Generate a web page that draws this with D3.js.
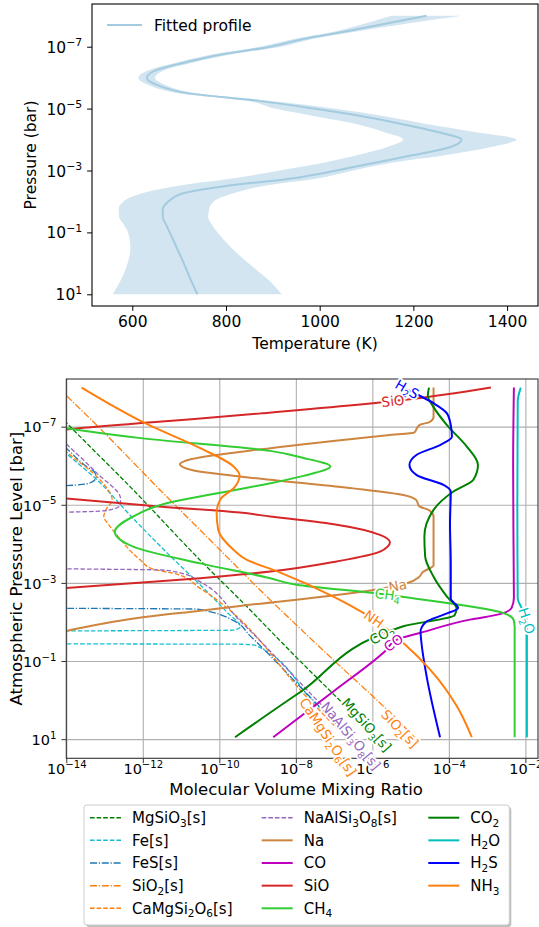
<!DOCTYPE html>
<html>
<head>
<meta charset="utf-8">
<script src="https://cdn.jsdelivr.net/npm/d3@7"></script>
<style>
    body { margin: 0; background: #fff; }
    svg { display: block; font-family: "DejaVu Sans", sans-serif; }
</style>
</head>
<body>
<svg id="chart" width="539" height="927"></svg>
<script>
// ---- top panel: fitted temperature profile (log10 pressure in bar, T in K)
const tpLogP = [-8, -7.75, -7.5, -7.25, -7, -6.75, -6.5, -6.25, -6, -5.75, -5.5, -5.25, -5, -4.75, -4.5, -4.25, -4,
    -3.75, -3.5, -3.25, -3, -2.75, -2.5, -2.25, -2, -1.75, -1.5, -1.25, -1, -0.5, 0, 0.5, 1];
const tpMean = [1228, 1143, 1058, 965, 895, 790, 715, 653, 631, 655, 717, 870, 988, 1090, 1175, 1250, 1303,
    1278, 1200, 1118, 1036, 944, 800, 705, 677, 665, 665, 672, 680, 695, 710, 724, 739];
const tpLow = [1154, 1097, 1035, 945, 872, 770, 697, 636, 613, 637, 698, 845, 905, 990, 1078, 1135, 1178,
    1143, 1082, 1008, 915, 816, 695, 618, 581, 571, 572, 582, 591, 596, 590, 577, 558];
const tpHigh = [1303, 1188, 1082, 985, 918, 810, 733, 670, 649, 673, 736, 895, 1030, 1138, 1228, 1327, 1420,
    1363, 1271, 1154, 1072, 998, 880, 812, 774, 764, 762, 770, 782, 812, 848, 888, 919];
const tempTicks = [600, 800, 1000, 1200, 1400];
const presTicks = [-7, -5, -3, -1, 1];

// ---- bottom panel: [log10 mixing ratio, log10 pressure] along each profile
const mgsio3 = [[-14.9, -8], [-14, -7.1], [-12.25, -5.38], [-10.5, -3.58], [-9.46, -2.57], [-7.89, -1.0], [-6.84, 0.02], [-5.9, 0.95]];
const feS = [[-15.6, -8], [-14, -6.32], [-13.2, -5.64], [-12.3, -4.7], [-11.4, -3.8], [-10.5, -2.95], [-9.8, -2.25], [-9.45, -1.87],
    [-9.65, -1.79], [-14, -1.77], [-16, -1.76], [-40, -1.6], [-16, -1.45], [-14, -1.44], [-9.4, -1.43], [-9.05, -1.4], [-7.58, 0], [-6.6, 0.95]];
const fesS = [[-15.55, -8], [-14, -6.45], [-13.5, -6.0], [-13.25, -5.82], [-13.22, -5.7], [-13.4, -5.55], [-14, -5.49], [-16, -5.45],
    [-40, -4], [-16, -2.36], [-14, -2.35], [-10.6, -2.33], [-10.2, -2.25], [-9.6, -2.02], [-9.2, -1.65], [-7.55, 0], [-6.6, 0.95]];
const sio2S = [[-14.2, -8], [-14, -7.8], [-13.3, -7.13], [-11.55, -5.38], [-10.07, -3.93], [-8.76, -2.65], [-7.02, -1.03], [-5.71, 0.16], [-4.9, 0.95]];
const camgsi2o6 = [[-15.6, -8], [-14, -6.36], [-13.12, -5.64], [-12.8, -5.12], [-12.95, -4.9], [-13.02, -4.7], [-12.9, -4.5], [-12.68, -4.23],
    [-12.07, -3.59], [-11.75, -3.36], [-11.1, -3.22], [-10.5, -2.86], [-7.64, 0], [-6.7, 0.95]];
const naalsi3o8 = [[-15.45, -8], [-14, -6.56], [-13.2, -5.81], [-12.58, -5.15], [-12.6, -4.98], [-12.9, -4.86], [-14, -4.81], [-16, -4.78],
    [-40, -4.1], [-16, -3.38], [-14, -3.36], [-11.5, -3.33], [-10.95, -3.24], [-10.6, -3.08], [-9.46, -2.03], [-7.45, 0], [-6.5, 0.95]];
const na = [[-4.4, -8], [-4.4, -7.25], [-4.5, -7.12], [-4.75, -7.05], [-4.84, -6.95], [-4.9, -6.85], [-5.6, -6.78], [-8.67, -6.45],
    [-10.72, -6.17], [-11.03, -6.04], [-10.72, -5.89], [-8.67, -5.64], [-6.5, -5.42], [-5.19, -5.25], [-4.85, -5.12], [-4.78, -4.97],
    [-4.5, -4.85], [-4.4, -4.7], [-4.4, -3.45], [-4.68, -3.28], [-4.78, -3.15], [-5.1, -2.99], [-5.97, -2.82], [-9.46, -2.41],
    [-10.5, -2.29], [-12, -2.12], [-14, -1.77], [-16, -1.3]];
const co = [[-2.3, -8], [-2.32, -6], [-2.31, -4], [-2.3, -2.62], [-2.36, -2.36], [-2.66, -2.2], [-3.45, -2.06], [-4.75, -1.72],
    [-5.36, -1.55], [-5.67, -1.25], [-7.02, -0.22], [-8.59, 0.95]];
const sio = [[-2.9, -8], [-5.2, -7.68], [-8.9, -7.34], [-11.5, -7.13], [-14, -6.93], [-16, -6.7], [-40, -6], [-16, -5.35], [-14, -5.16],
    [-11.5, -4.95], [-9.46, -4.8], [-8.67, -4.7], [-6.93, -4.49], [-5.8, -4.23], [-5.54, -4.04], [-5.8, -3.8], [-6.93, -3.55],
    [-8.67, -3.29], [-10.5, -3.12], [-12.2, -3.0], [-14, -2.87], [-16, -2.72]];
const ch4 = [[-16, -7.3], [-14, -6.96], [-12, -6.7], [-8.67, -6.38], [-7.8, -6.2], [-7.1, -5.98], [-7.8, -5.74], [-8.67, -5.55],
    [-10.2, -5.27], [-11.38, -5.04], [-12.25, -4.7], [-12.73, -4.31], [-12.25, -3.93], [-10.5, -3.5], [-8.67, -3.12], [-7.98, -2.95],
    [-5.97, -2.74], [-5.28, -2.65], [-2.58, -2.23], [-2.31, -2.06], [-2.28, -1.88], [-2.28, 0.95]];
const co2 = [[-4.52, -8], [-4.55, -7.8], [-4.4, -7.5], [-4.05, -7.04], [-3.53, -6.49], [-3.24, -6.02], [-3.36, -5.64], [-3.88, -5.34],
    [-4.4, -4.87], [-4.64, -4.19], [-4.62, -3.68], [-4.4, -3.16], [-4.05, -2.65], [-3.8, -2.35], [-3.85, -2.17], [-5.19, -1.89],
    [-7.89, -0.2], [-9.59, 0.95]];
const h2o = [[-2.12, -8], [-2.2, -7.65], [-2.21, -5], [-2.2, -2.6], [-2.12, -2.4], [-1.98, -2.15], [-1.96, -1.8], [-1.96, 0.95]];
const h2s = [[-5.2, -8], [-4.8, -7.81], [-4.4, -7.6], [-4.05, -7.34], [-3.95, -7.04], [-3.92, -6.74], [-4.23, -6.53], [-4.84, -6.28],
    [-5.03, -6.02], [-4.84, -5.76], [-4.14, -5.51], [-3.95, -5.34], [-3.97, -4.5], [-3.95, -3.5], [-3.95, -2.6], [-3.76, -2.36],
    [-4.1, -2.2], [-4.6, -2.0], [-4.74, -1.75], [-4.72, -1.5], [-4.58, -0.6], [-4.23, 0.95]];
const nh3 = [[-13.6, -8], [-11.9, -7.07], [-10.5, -6.45], [-9.65, -6.0], [-9.47, -5.75], [-9.6, -5.45], [-9.98, -5.13], [-10.07, -4.79],
    [-10.03, -4.36], [-9.63, -3.85], [-9.28, -3.59], [-8.5, -3.3], [-7.02, -2.65], [-6.15, -2.18], [-5.6, -1.8], [-5.19, -1.46],
    [-4.49, -0.78], [-3.79, 0.16], [-3.4, 0.95]];

const speciesNames = ['MgSiO3[s]', 'Fe[s]', 'FeS[s]', 'SiO2[s]', 'CaMgSi2O6[s]', 'NaAlSi3O8[s]',
    'Na', 'CO', 'SiO', 'CH4', 'CO2', 'H2O', 'H2S', 'NH3'];
const speciesData = [mgsio3, feS, fesS, sio2S, camgsi2o6, naalsi3o8, na, co, sio, ch4, co2, h2o, h2s, nh3];

// inline label anchors [name, log10 mixing ratio, log10 pressure]
const lineLabels = [
    ['H2S', -5.09, -7.96], ['SiO', -5.46, -7.66], ['Na', -5.34, -2.93], ['CH4', -5.6, -2.7],
    ['NH3', -5.9, -2.03], ['CO2', -5.75, -1.67], ['CO', -5.45, -1.47], ['H2O', -1.96, -2.03],
    ['MgSiO3[s]', -6.15, 0.63], ['SiO2[s]', -5.28, 0.73], ['NaAlSi3O8[s]', -6.56, 0.91], ['CaMgSi2O6[s]', -7.16, 0.94]
];
const mixTicks = [-14, -12, -10, -8, -6, -4, -2];
const levelTicks = [-7, -5, -3, -1, 1];

const DASHED = '4.6,2';
const DASHDOT = '7,1.8,1.2,1.8';
const styles = {
    'MgSiO3[s]': { color: '#008000', dash: DASHED, width: 1.3 },
    'Fe[s]': { color: '#17becf', dash: DASHED, width: 1.3 },
    'FeS[s]': { color: '#1f77b4', dash: DASHDOT, width: 1.3 },
    'SiO2[s]': { color: '#ff7f0e', dash: DASHDOT, width: 1.3 },
    'CaMgSi2O6[s]': { color: '#ff7f0e', dash: DASHED, width: 1.3 },
    'NaAlSi3O8[s]': { color: '#9467bd', dash: DASHED, width: 1.3 },
    'Na': { color: '#cd853f', dash: null, width: 2 },
    'CO': { color: '#bf00bf', dash: null, width: 2 },
    'SiO': { color: '#d62728', dash: null, width: 2 },
    'CH4': { color: '#32cd32', dash: null, width: 2 },
    'CO2': { color: '#008000', dash: null, width: 2 },
    'H2O': { color: '#00bfbf', dash: null, width: 2 },
    'H2S': { color: '#0000ff', dash: null, width: 2 },
    'NH3': { color: '#ff7f0e', dash: null, width: 2 }
};
const labelAngle = {
    'H2S': 30, 'SiO': -6, 'Na': -12, 'CH4': 8, 'NH3': 35, 'CO2': -28, 'CO': -35, 'H2O': 72,
    'MgSiO3[s]': 48, 'SiO2[s]': 46, 'NaAlSi3O8[s]': 50, 'CaMgSi2O6[s]': 56
};

const svg = d3.select('#chart');

function powerLabel(text, exp, size) {
    text.text(null);
    text.append('tspan').text('10');
    text.append('tspan')
        .attr('font-size', size * 0.7)
        .attr('dy', -size * 0.42)
        .text(exp < 0 ? '\u2212' + Math.abs(exp) : String(exp));
}

// digits become subscripts: H2O -> H₂O
function chemLabel(text, name, size) {
    text.text(null);
    let low = false;
    name.match(/\d+|\D+/g).forEach(part => {
        const span = text.append('tspan').text(part);
        if (/^\d+$/.test(part)) {
            span.attr('font-size', size * 0.7).attr('dy', low ? 0 : size * 0.24);
            low = true;
        } else if (low) {
            span.attr('dy', -size * 0.24);
            low = false;
        }
    });
}

class ProfileVis {
    constructor(parent) {
        this.parent = parent;
        this.initVis();
    }

    initVis() {
        const vis = this;
        vis.box = { left: 92, right: 538, top: 4, bottom: 306 };
        vis.fs = 15.5;

        vis.x = d3.scaleLinear().domain([514, 1466]).range([vis.box.left, vis.box.right]);
        vis.y = d3.scaleLog().domain([10 ** -8.38, 10 ** 1.378]).range([vis.box.top, vis.box.bottom]);

        vis.g = vis.parent.append('g');
        vis.updateVis();
    }

    updateVis() {
        const vis = this;
        const rows = tpLogP.map((p, i) => ({ p: p, mean: tpMean[i], lo: tpLow[i], hi: tpHigh[i] }));

        vis.g.append('path')
            .datum(rows)
            .attr('fill', '#d2e5f0')
            .attr('d', d3.area()
                .y(d => vis.y(10 ** d.p))
                .x0(d => vis.x(d.lo))
                .x1(d => vis.x(d.hi))
                .curve(d3.curveMonotoneY));

        vis.g.append('path')
            .datum(rows)
            .attr('fill', 'none')
            .attr('stroke', '#a3cbe0')
            .attr('stroke-width', 2)
            .attr('d', d3.line()
                .y(d => vis.y(10 ** d.p))
                .x(d => vis.x(d.mean))
                .curve(d3.curveMonotoneY));

        const xAxis = vis.g.append('g')
            .attr('transform', `translate(0, ${vis.box.bottom})`)
            .call(d3.axisBottom(vis.x).tickValues(tempTicks).tickFormat(d3.format('d')).tickSize(4.9).tickPadding(4.9));
        xAxis.select('.domain').remove();
        xAxis.selectAll('text').attr('font-size', vis.fs).attr('font-family', 'DejaVu Sans').attr('fill', '#000');

        const yAxis = vis.g.append('g')
            .attr('transform', `translate(${vis.box.left}, 0)`)
            .call(d3.axisLeft(vis.y).tickValues(presTicks.map(e => 10 ** e)).tickSize(4.9).tickPadding(4.9));
        yAxis.select('.domain').remove();
        yAxis.selectAll('text')
            .attr('font-size', vis.fs).attr('font-family', 'DejaVu Sans').attr('fill', '#000')
            .attr('dy', '0.36em')
            .each(function(d) { powerLabel(d3.select(this), Math.round(Math.log10(d)), vis.fs); });

        vis.g.append('rect')
            .attr('x', vis.box.left).attr('y', vis.box.top)
            .attr('width', vis.box.right - vis.box.left).attr('height', vis.box.bottom - vis.box.top)
            .attr('fill', 'none').attr('stroke', '#000').attr('stroke-width', 1.1);

        vis.g.append('text')
            .attr('x', (vis.box.left + vis.box.right) / 2).attr('y', 349)
            .attr('text-anchor', 'middle').attr('font-size', vis.fs)
            .text('Temperature (K)');

        vis.g.append('text')
            .attr('transform', `translate(36, ${(vis.box.top + vis.box.bottom) / 2}) rotate(-90)`)
            .attr('text-anchor', 'middle').attr('font-size', vis.fs)
            .text('Pressure (bar)');

        // legend
        vis.g.append('line')
            .attr('x1', 107).attr('x2', 142).attr('y1', 25).attr('y2', 25)
            .attr('stroke', '#a3cbe0').attr('stroke-width', 2);
        vis.g.append('text')
            .attr('x', 154).attr('y', 30.5).attr('font-size', vis.fs)
            .text('Fitted profile');
    }
}

class AbundanceVis {
    constructor(parent) {
        this.parent = parent;
        this.initVis();
    }

    initVis() {
        const vis = this;
        vis.box = { left: 66.3, right: 538, top: 379, bottom: 758.3 };
        vis.fs = 14.5;

        vis.x = d3.scaleLog().domain([1e-14, 10 ** -1.67]).range([vis.box.left, vis.box.right]);
        vis.y = d3.scaleLog().domain([10 ** -8.22, 10 ** 1.49]).range([vis.box.top, vis.box.bottom]);

        vis.g = vis.parent.append('g');

        vis.parent.append('defs').append('clipPath').attr('id', 'plot-clip')
            .append('rect')
            .attr('x', vis.box.left).attr('y', vis.box.top)
            .attr('width', vis.box.right - vis.box.left).attr('height', vis.box.bottom - vis.box.top);

        vis.updateVis();
    }

    updateVis() {
        const vis = this;
        const w = vis.box.right - vis.box.left;
        const h = vis.box.bottom - vis.box.top;

        // grid + ticks
        const xAxis = vis.g.append('g')
            .attr('transform', `translate(0, ${vis.box.bottom})`)
            .call(d3.axisBottom(vis.x).tickValues(mixTicks.map(e => 10 ** e)).tickSize(4.9).tickPadding(4.9));
        xAxis.select('.domain').remove();
        xAxis.selectAll('.tick line').attr('stroke', '#333');
        xAxis.selectAll('.tick').append('line')
            .attr('y1', 0).attr('y2', -h)
            .attr('stroke', '#b0b0b0').attr('stroke-width', 1.1);
        xAxis.selectAll('text')
            .attr('font-size', vis.fs).attr('font-family', 'DejaVu Sans').attr('fill', '#000')
            .attr('y', 16)
            .attr('dy', null)
            .each(function(d) { powerLabel(d3.select(this), Math.round(Math.log10(d)), vis.fs); });

        const yAxis = vis.g.append('g')
            .attr('transform', `translate(${vis.box.left}, 0)`)
            .call(d3.axisLeft(vis.y).tickValues(levelTicks.map(e => 10 ** e)).tickSize(4.9).tickPadding(4.9));
        yAxis.select('.domain').remove();
        yAxis.selectAll('.tick line').attr('stroke', '#333');
        yAxis.selectAll('.tick').append('line')
            .attr('x1', 0).attr('x2', w)
            .attr('stroke', '#b0b0b0').attr('stroke-width', 1.1);
        yAxis.selectAll('text')
            .attr('font-size', vis.fs).attr('font-family', 'DejaVu Sans').attr('fill', '#000')
            .attr('dy', '0.36em')
            .each(function(d) { powerLabel(d3.select(this), Math.round(Math.log10(d)), vis.fs); });

        // profiles
        const line = d3.line()
            .x(d => vis.x(10 ** d[0]))
            .y(d => vis.y(10 ** d[1]))
            .curve(d3.curveMonotoneY);

        vis.g.append('g')
            .attr('clip-path', 'url(#plot-clip)')
            .selectAll('.profile')
            .data(speciesNames)
            .enter()
            .append('path')
            .attr('class', 'profile')
            .attr('fill', 'none')
            .attr('stroke', d => styles[d].color)
            .attr('stroke-width', d => styles[d].width)
            .attr('stroke-dasharray', d => styles[d].dash)
            .attr('d', (d, i) => line(speciesData[i]));

        vis.g.append('rect')
            .attr('x', vis.box.left).attr('y', vis.box.top)
            .attr('width', w).attr('height', h)
            .attr('fill', 'none').attr('stroke', '#333').attr('stroke-width', 1.1);

        // inline labels
        vis.g.selectAll('.line-label')
            .data(lineLabels)
            .enter()
            .append('text')
            .attr('class', 'line-label')
            .attr('transform', d => `translate(${vis.x(10 ** d[1])}, ${vis.y(10 ** d[2])}) rotate(${labelAngle[d[0]]})`)
            .attr('text-anchor', 'middle')
            .attr('dy', '0.36em')
            .attr('font-size', 13.5)
            .attr('fill', d => styles[d[0]].color)
            .attr('stroke', '#fff')
            .attr('stroke-width', 3.5)
            .attr('stroke-linejoin', 'round')
            .attr('paint-order', 'stroke')
            .each(function(d) { chemLabel(d3.select(this), d[0], 13.5); });

        // axis titles
        vis.g.append('text')
            .attr('x', 296).attr('y', 795)
            .attr('text-anchor', 'middle').attr('font-size', 16.5)
            .text('Molecular Volume Mixing Ratio');

        vis.g.append('text')
            .attr('transform', `translate(22, ${(vis.box.top + vis.box.bottom) / 2}) rotate(-90)`)
            .attr('text-anchor', 'middle').attr('font-size', 16.5)
            .text('Atmospheric Pressure Level [bar]');

        vis.drawLegend();
    }

    drawLegend() {
        const vis = this;
        const frame = { x: 84, y: 805, w: 425.3, h: 120 };
        const colX = [90, 261.7, 428.3];
        const rowY0 = 817.7;
        const rowStep = 22.65;
        const fs = 15;

        const lg = vis.parent.append('g');
        lg.append('rect')
            .attr('x', frame.x + 2).attr('y', frame.y + 2)
            .attr('width', frame.w).attr('height', frame.h).attr('rx', 3)
            .attr('fill', '#000').attr('opacity', 0.25);
        lg.append('rect')
            .attr('x', frame.x).attr('y', frame.y)
            .attr('width', frame.w).attr('height', frame.h).attr('rx', 3)
            .attr('fill', '#fff').attr('stroke', '#cccccc').attr('stroke-width', 1);

        const items = lg.selectAll('.legend-item')
            .data(speciesNames)
            .enter()
            .append('g')
            .attr('class', 'legend-item')
            .attr('transform', (d, i) => `translate(${colX[Math.floor(i / 5)]}, ${rowY0 + (i % 5) * rowStep})`);

        items.append('line')
            .attr('x1', 0).attr('x2', 31)
            .attr('stroke', d => styles[d].color)
            .attr('stroke-width', d => styles[d].width === 2 ? 2 : 1.5)
            .attr('stroke-dasharray', d => styles[d].dash);

        items.append('text')
            .attr('x', 42).attr('dy', '0.36em')
            .attr('font-size', fs)
            .each(function(d) { chemLabel(d3.select(this), d, fs); });
    }
}

new ProfileVis(svg);
new AbundanceVis(svg);
</script>
</body>
</html>
